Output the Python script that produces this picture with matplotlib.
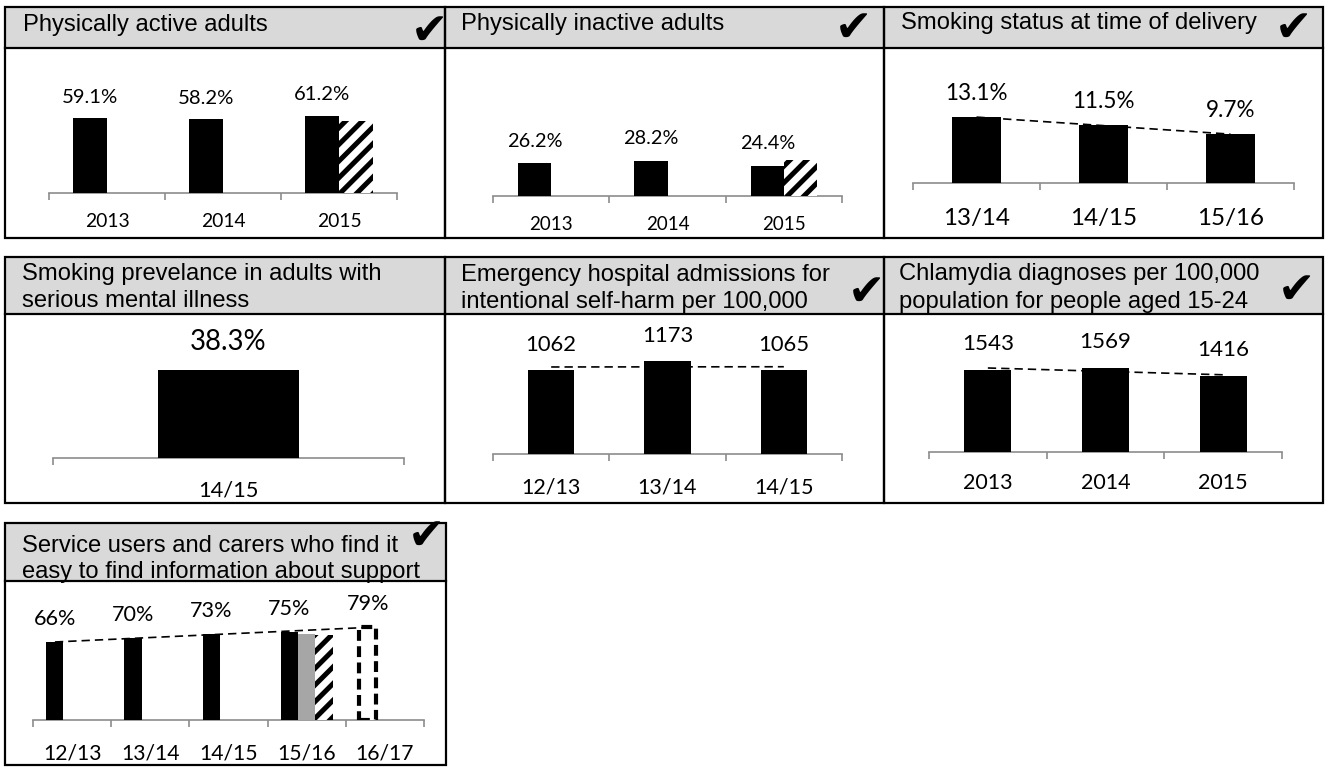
import numpy as np
import matplotlib
matplotlib.use("Agg")
import matplotlib.pyplot as plt
from matplotlib.patches import Rectangle
from matplotlib.lines import Line2D

# ---------------- data ----------------
active_years = ["2013", "2014", "2015"]
active_vals = [59.1, 58.2, 61.2]
active_comp = [np.nan, np.nan, 57.0]

inactive_years = ["2013", "2014", "2015"]
inactive_vals = [26.2, 28.2, 24.4]
inactive_comp = [np.nan, np.nan, 28.9]

delivery_years = ["13/14", "14/15", "15/16"]
delivery_vals = [13.1, 11.5, 9.7]

smi_years = ["14/15"]
smi_vals = [38.3]

selfharm_years = ["12/13", "13/14", "14/15"]
selfharm_vals = [1062, 1173, 1065]

chlamydia_years = ["2013", "2014", "2015"]
chlamydia_vals = [1543, 1569, 1416]

info_years = ["12/13", "13/14", "14/15", "15/16", "16/17"]
info_vals = [66, 70, 73, 75, 79]
info_is_target = [False, False, False, False, True]
info_comp_gray = [np.nan, np.nan, np.nan, 73.0, np.nan]
info_comp_hatch = [np.nan, np.nan, np.nan, 72.5, np.nan]

# ---------------- setup ----------------
plt.rcParams["hatch.linewidth"] = 3.6
plt.rcParams["hatch.color"] = "black"

W, H = 1325, 767
fig = plt.figure(figsize=(W / 100, H / 100), dpi=100)
fig.patch.set_facecolor("white")
renderer = fig.canvas.get_renderer()

VAL_FONT = "Lato"
TITLE_FONT = "Liberation Sans"
AXIS_GREY = "#8c8c8c"
SIZE_BOOST = 1.06


def fx(x):
    return x / W


def fy(y):
    return 1 - y / H


def fit(text, px, family=VAL_FONT):
    t = fig.text(0, 0, text, fontsize=20, family=family)
    w = t.get_window_extent(renderer).width
    t.remove()
    return 20 * px / w * SIZE_BOOST


def style_kw(kind):
    if kind == "solid":
        return dict(color="black", edgecolor="none", linewidth=0)
    if kind == "gray":
        return dict(color="#a6a6a6", edgecolor="none", linewidth=0)
    if kind == "hatch":
        return dict(color="white", edgecolor="black", hatch="//", linewidth=0)
    if kind == "target":
        return dict(color="white", edgecolor="black", linewidth=3,
                    linestyle=(0, (2.6, 1.3)))
    raise ValueError(kind)


def frame(box, hdr, title_lines, tx, tbs, check):
    x0, y0, x1, y1 = box
    fig.add_artist(Rectangle((fx(x0), fy(hdr)), (x1 - x0) / W, (hdr - y0) / H,
                             transform=fig.transFigure, facecolor="#d9d9d9",
                             edgecolor="none", zorder=0))
    fig.add_artist(Rectangle((fx(x0), fy(y1)), (x1 - x0) / W, (y1 - y0) / H,
                             transform=fig.transFigure, facecolor="none",
                             edgecolor="black", linewidth=1.6, zorder=5))
    fig.add_artist(Line2D([fx(x0), fx(x1)], [fy(hdr), fy(hdr)],
                          transform=fig.transFigure, color="black",
                          linewidth=1.6, zorder=5))
    for line, tb in zip(title_lines, tbs):
        fig.text(fx(tx), fy(tb), line, family=TITLE_FONT, fontsize=17.1,
                 ha="left", va="baseline", color="black", zorder=6)
    if check is not None:
        fig.text(fx(check[0]), fy(check[1]), "\u2714", family="DejaVu Sans",
                 fontsize=32, ha="center", va="center", color="black", zorder=7)


def chart(axis, ytop, cats, main_vals, main_kinds, width, main_off,
          extras, fmt, val_sample, val_px, val_off,
          tick_sample, tick_px, tick_off, trend=False):
    ax_x0, ax_x1, base = axis
    ax = fig.add_axes([fx(ax_x0), fy(base), (ax_x1 - ax_x0) / W,
                       (base - ytop[1]) / H])
    ax.set_facecolor("none")
    n = len(cats)
    x = np.arange(n)
    for xi, v, k in zip(x, main_vals, main_kinds):
        ax.bar(xi + main_off, v, width, zorder=3, **style_kw(k))
    for vals, off, kind in extras:
        ax.bar(x + off, vals, width, zorder=3, **style_kw(kind))
    if trend:
        coef = np.polyfit(x, main_vals, 1)
        ax.plot(x + main_off, np.polyval(coef, x), color="black",
                linewidth=1.2, linestyle=(0, (5, 3)), zorder=4)
    vfs = fit(val_sample, val_px)
    for xi, v in zip(x, main_vals):
        ax.annotate(fmt.format(v), (xi + main_off, v),
                    xytext=(0, val_off * 0.72), textcoords="offset points",
                    ha="center", va="center", family=VAL_FONT, fontsize=vfs,
                    color="black", zorder=6)
    ax.set_xlim(-0.5, n - 0.5)
    ax.set_ylim(0, ytop[0])
    ax.set_yticks([])
    for s in ("top", "left", "right"):
        ax.spines[s].set_visible(False)
    ax.spines["bottom"].set_color(AXIS_GREY)
    ax.spines["bottom"].set_linewidth(1.2)
    tfs = fit(tick_sample, tick_px)
    ax.set_xticks(x, cats, family=VAL_FONT, fontsize=tfs)
    ax.set_xticks(np.arange(n + 1) - 0.5, minor=True)
    ax.tick_params(axis="x", which="minor", length=5, width=1.2,
                   color=AXIS_GREY, direction="out")
    ax.tick_params(axis="x", which="major", length=0, pad=tick_off * 0.72)
    for lbl in ax.get_xticklabels():
        lbl.set_va("center")
    return ax


# ---------------- panel 1 ----------------
frame((5, 7, 445, 238), 48, ["Physically active adults"], 23, [31], (429, 31))
chart((49, 397, 192.7), (114.9, 48), active_years, active_vals,
      ["solid"] * 3, 0.29, -0.145, [(active_comp, 0.145, "hatch")],
      "{:.1f}%", "59.1%", 53, 21, "2013", 42, 29)

# ---------------- panel 2 ----------------
frame((445, 7, 884, 238), 48, ["Physically inactive adults"], 461, [30], (853, 28))
chart((493, 842, 196), (118.7, 48), inactive_years, inactive_vals,
      ["solid"] * 3, 0.284, -0.142, [(inactive_comp, 0.142, "hatch")],
      "{:.1f}%", "26.2%", 52, 22, "2013", 41, 29)

# ---------------- panel 3 ----------------
frame((884, 7, 1323, 238), 48, ["Smoking status at time of delivery"], 901, [29],
      (1293, 28))
chart((913, 1294, 183), (26.9, 48), delivery_years, delivery_vals,
      ["solid"] * 3, 0.39, 0.0, [], "{:.1f}%", "13.1%", 59, 24,
      "13/14", 63, 35, trend=True)

# ---------------- panel 4 ----------------
frame((5, 257, 445, 503), 314,
      ["Smoking prevelance in adults with", "serious mental illness"],
      22, [280, 307], None)
chart((53, 404, 458.3), (62.6, 314), smi_years, smi_vals, ["solid"],
      0.40, 0.0, [], "{:.1f}%", "38.3%", 72, 28, "14/15", 57, 32)

# ---------------- panel 5 ----------------
frame((445, 257, 884, 503), 314,
      ["Emergency hospital admissions for", "intentional self-harm per 100,000"],
      461, [281, 308], (866, 292))
chart((493, 842, 454.3), (1765, 314), selfharm_years, selfharm_vals,
      ["solid"] * 3, 0.40, 0.0, [], "{:d}", "1062", 48, 25,
      "12/13", 56, 33, trend=True)

# ---------------- panel 6 ----------------
frame((884, 257, 1323, 503), 314,
      ["Chlamydia diagnoses per 100,000", "population for people aged 15-24"],
      899, [280, 308], (1296, 290))
chart((929, 1282, 452.3), (2580, 314), chlamydia_years, chlamydia_vals,
      ["solid"] * 3, 0.40, 0.0, [], "{:d}", "1543", 49, 26,
      "2013", 47, 31, trend=True)

# ---------------- panel 7 ----------------
frame((5, 523, 446, 765), 581,
      ["Service users and carers who find it",
       "easy to find information about support"],
      22, [552, 578], (426, 536))
chart((33, 424, 720), (118.3, 581), info_years, info_vals,
      ["target" if t else "solid" for t in info_is_target], 0.22, -0.22,
      [(info_comp_gray, 0.0, "gray"), (info_comp_hatch, 0.22, "hatch")],
      "{:d}%", "66%", 40, 23, "12/13", 55, 33, trend=True)

fig.savefig("out.png", dpi=100, facecolor="white")
